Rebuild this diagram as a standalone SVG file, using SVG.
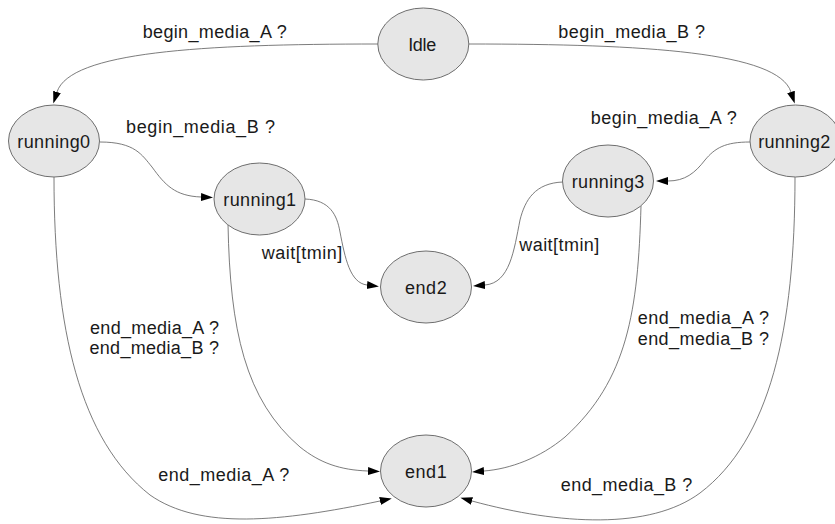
<svg xmlns="http://www.w3.org/2000/svg" width="835" height="524" viewBox="0 0 835 524">
  <style>
    .node ellipse { fill: #e6e6e6; stroke: #6e6e6e; stroke-width: 1; }
    .node text { font-family: "Liberation Sans", Arial, sans-serif; font-size: 18px; fill: #1a1a1a; text-anchor: middle; }
    .edge path { fill: none; stroke: #5a5a5a; stroke-width: 0.8; marker-end: url(#arrow); }
    .lbl { font-family: "Liberation Sans", Arial, sans-serif; font-size: 18px; fill: #1a1a1a; }
  </style>
  <defs>
    <marker id="arrow" markerUnits="userSpaceOnUse" markerWidth="13" markerHeight="9" refX="0" refY="4" orient="auto">
      <path d="M0,0 L12,4 L0,8 z" fill="#000"/>
    </marker>
  </defs>
  <rect width="835" height="524" fill="#fff"/>

  <!-- transitions -->
  <g id="edges" class="edge">
    <path d="M378,44 C200,44 70,52 57,92"/>
    <path d="M469,44 C646,44 778,52 791,92"/>
    <path d="M100,142 C135,142 142,155 152,167 C165,185 175,196 201,197"/>
    <path d="M305,199 C330,200 337,215 340,232 C345,258 350,283 367,285"/>
    <path d="M563,182 C535,183 525,200 520,220 C514,250 510,283 485,285"/>
    <path d="M750,142 C725,142 715,148 705,160 C695,173 685,181 668,181"/>
    <path d="M54,177 C54,330 80,440 150,495 C200,530 280,522 380,501"/>
    <path d="M228,224 C230,330 245,400 300,447 C320,463 340,470 368,471"/>
    <path d="M641,206 C638,310 628,380 565,437 C540,458 510,469 484,471"/>
    <path d="M795,177 C795,330 770,440 700,493 C650,530 560,525 472,501"/>
  </g>

  <!-- transition labels -->
  <g id="edge-labels">
    <text class="lbl" x="142.7" y="38" textLength="144" lengthAdjust="spacing">begin_media_A ?</text>
    <text class="lbl" x="558.3" y="38" textLength="146.7" lengthAdjust="spacing">begin_media_B ?</text>
    <text class="lbl" x="126" y="133" textLength="149" lengthAdjust="spacing">begin_media_B ?</text>
    <text class="lbl" x="590.7" y="124" textLength="146" lengthAdjust="spacing">begin_media_A ?</text>
    <text class="lbl" x="261.7" y="259" textLength="80.6" lengthAdjust="spacing">wait[tmin]</text>
    <text class="lbl" x="519.3" y="251" textLength="80" lengthAdjust="spacing">wait[tmin]</text>
    <text class="lbl" x="90" y="333.5" textLength="129" lengthAdjust="spacing">end_media_A ?</text>
    <text class="lbl" x="89.5" y="353.5" textLength="129.5" lengthAdjust="spacing">end_media_B ?</text>
    <text class="lbl" x="637.7" y="323.5" textLength="131.3" lengthAdjust="spacing">end_media_A ?</text>
    <text class="lbl" x="637.7" y="344.5" textLength="131.3" lengthAdjust="spacing">end_media_B ?</text>
    <text class="lbl" x="158.3" y="481" textLength="131" lengthAdjust="spacing">end_media_A ?</text>
    <text class="lbl" x="560.7" y="490.7" textLength="131.6" lengthAdjust="spacing">end_media_B ?</text>
  </g>

  <!-- states -->
  <g id="Idle" class="node">
    <ellipse cx="423.3" cy="44" rx="45.5" ry="36"/>
    <text x="422.2" y="50.5" textLength="28" lengthAdjust="spacing">Idle</text>
  </g>
  <g id="running0" class="node">
    <ellipse cx="54" cy="141" rx="45.5" ry="36"/>
    <text x="53.7" y="147.5" textLength="72.7" lengthAdjust="spacing">running0</text>
  </g>
  <g id="running1" class="node">
    <ellipse cx="259.5" cy="199" rx="45.5" ry="36"/>
    <text x="259.7" y="205.5" textLength="72.7" lengthAdjust="spacing">running1</text>
  </g>
  <g id="running2" class="node">
    <ellipse cx="795.5" cy="141" rx="45.5" ry="36"/>
    <text x="794.2" y="147.5" textLength="72" lengthAdjust="spacing">running2</text>
  </g>
  <g id="running3" class="node">
    <ellipse cx="608" cy="181" rx="45.5" ry="36"/>
    <text x="608" y="187.5" textLength="72.7" lengthAdjust="spacing">running3</text>
  </g>
  <g id="end2" class="node">
    <ellipse cx="426" cy="287" rx="45.5" ry="36"/>
    <text x="425.8" y="293.5" textLength="41.7" lengthAdjust="spacing">end2</text>
  </g>
  <g id="end1" class="node">
    <ellipse cx="426" cy="471" rx="45.5" ry="36"/>
    <text x="425.8" y="477.5" textLength="41.7" lengthAdjust="spacing">end1</text>
  </g>
</svg>
